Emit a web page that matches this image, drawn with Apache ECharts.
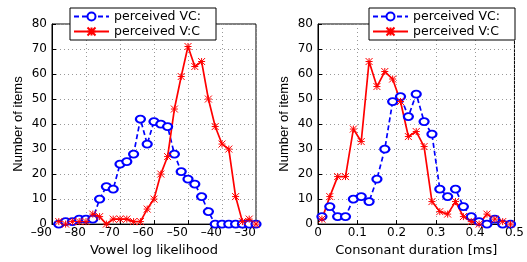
<!DOCTYPE html>
<html>
<head>
<meta charset="utf-8">
<script src="https://cdn.jsdelivr.net/npm/echarts@6/dist/echarts.min.js"></script>
<style>
  html, body { margin: 0; padding: 0; background: #fff; }
  #chart { width: 527px; height: 262px; }
</style>
</head>
<body>
<div id="chart"></div>
<script>
// left panel: vowel log likelihood
var vowelX = [-88, -86, -84, -82, -80, -78, -76, -74, -72, -70, -68, -66, -64, -62, -60,
              -58, -56, -54, -52, -50, -48, -46, -44, -42, -40, -38, -36, -34, -32, -30];
var vowelVC = [0, 1, 1, 2, 2, 2, 10, 15, 14, 24, 25, 28, 42, 32, 41,
               40, 39, 28, 21, 18, 16, 11, 5, 0, 0, 0, 0, 0, 0, 0];
var vowelVcolonC = [1, 0, 1, 1, 1, 4, 3, 0, 2, 2, 2, 1, 1, 6, 10,
                    20, 27, 46, 59, 71, 63, 65, 50, 39, 32, 30, 11, 1, 2, 0];
// right panel: consonant duration
var durX = [0.01, 0.03, 0.05, 0.07, 0.09, 0.11, 0.13, 0.15, 0.17, 0.19, 0.21, 0.23, 0.25,
            0.27, 0.29, 0.31, 0.33, 0.35, 0.37, 0.39, 0.41, 0.43, 0.45, 0.47, 0.49];
var durVC = [3, 7, 3, 3, 10, 11, 9, 18, 30, 49, 51, 43, 52,
             41, 36, 14, 11, 14, 7, 3, 1, 0, 2, 0, 0];
var durVcolonC = [2, 11, 19, 19, 38, 33, 65, 55, 61, 58, 49, 35, 37,
                  31, 9, 5, 4, 9, 3, 1, 0, 4, 2, 1, 0];

var legendNames = ['perceived VC:', 'perceived V:C'];
var yTitle = 'Number of items';

function pairs(xs, ys) {
    return xs.map(function (x, i) { return [x, ys[i]]; });
}

var font = 'DejaVu Sans';
var star = 'path://M0,0L10,10M10,0L0,10M5,0L5,10M0,5L10,5';

function blueSeries(xi, data) {
    return {
        name: legendNames[0], type: 'line', xAxisIndex: xi, yAxisIndex: xi,
        data: data, symbol: 'emptyCircle', symbolSize: [9, 7],
        lineStyle: { color: '#0000ff', width: 1.7, type: [5, 3] },
        itemStyle: { color: '#0000ff', borderColor: '#0000ff', borderWidth: 1.5 }
    };
}
function redSeries(xi, data) {
    return {
        name: legendNames[1], type: 'line', xAxisIndex: xi, yAxisIndex: xi,
        data: data, symbol: star, symbolSize: 7,
        lineStyle: { color: '#ff0000', width: 1.7 },
        itemStyle: { color: '#ff0000', borderColor: '#ff0000', borderWidth: 1 }
    };
}
function yAxis(gi) {
    return {
        gridIndex: gi, type: 'value', min: 0, max: 80, interval: 10,
        name: yTitle, nameLocation: 'middle', nameGap: 27,
        nameTextStyle: { fontFamily: "'Liberation Sans Narrow', 'Liberation Sans'", fontSize: 13, color: '#000' },
        axisLine: { show: true, lineStyle: { color: '#000' } },
        axisTick: { show: true, inside: true, length: 4, lineStyle: { color: '#000' } },
        axisLabel: { fontFamily: font, fontSize: 12, color: '#000', margin: 5 },
        splitLine: { show: true, lineStyle: { color: '#999', type: [1, 3] } }
    };
}
function legend(left) {
    return {
        left: left, top: 8, orient: 'vertical',
        data: legendNames,
        backgroundColor: '#fff', borderColor: '#000', borderWidth: 1,
        padding: [2, 15, 2, 3], itemGap: 2, itemWidth: 35, itemHeight: 10,
        textStyle: { fontFamily: font, fontSize: 12.5, color: '#000' }
    };
}

var chart = echarts.init(document.getElementById('chart'));
chart.setOption({
    animation: false,
    legend: [legend(70), legend(369)],
    grid: [
        { left: 52, top: 24, width: 204, height: 214, show: true, borderColor: '#000', borderWidth: 1 },
        { left: 318, top: 24, width: 203, height: 214, show: true, borderColor: '#000', borderWidth: 1 }
    ],
    xAxis: [
        {
            gridIndex: 0, type: 'value', min: -90, max: -30, interval: 10,
            name: 'Vowel log likelihood', nameLocation: 'middle', nameGap: 13,
            nameTextStyle: { fontFamily: font, fontSize: 13, color: '#000' },
            axisLine: { show: true, lineStyle: { color: '#000' } },
            axisTick: { show: true, inside: true, length: 4, lineStyle: { color: '#000' } },
            axisLabel: {
                fontFamily: font, fontSize: 12, color: '#000', margin: 3, align: 'right',
                formatter: function (v) { return String(v).replace('-', '\u2013'); }
            },
            splitLine: { show: true, lineStyle: { color: '#999', type: [1, 3] } }
        },
        {
            gridIndex: 1, type: 'value', min: 0, max: 0.5, interval: 0.1,
            name: 'Consonant duration [ms]', nameLocation: 'middle', nameGap: 13,
            nameTextStyle: { fontFamily: font, fontSize: 13, color: '#000' },
            axisLine: { show: true, lineStyle: { color: '#000' } },
            axisTick: { show: true, inside: true, length: 4, lineStyle: { color: '#000' } },
            axisLabel: {
                fontFamily: font, fontSize: 12, color: '#000', margin: 3,
                formatter: function (v) { return String(Math.round(v * 10) / 10); }
            },
            splitLine: { show: true, lineStyle: { color: '#999', type: [1, 3] } }
        }
    ],
    yAxis: [yAxis(0), yAxis(1)],
    series: [
        blueSeries(0, pairs(vowelX, vowelVC)),
        redSeries(0, pairs(vowelX, vowelVcolonC)),
        blueSeries(1, pairs(durX, durVC)),
        redSeries(1, pairs(durX, durVcolonC))
    ]
});
</script>
</body>
</html>
